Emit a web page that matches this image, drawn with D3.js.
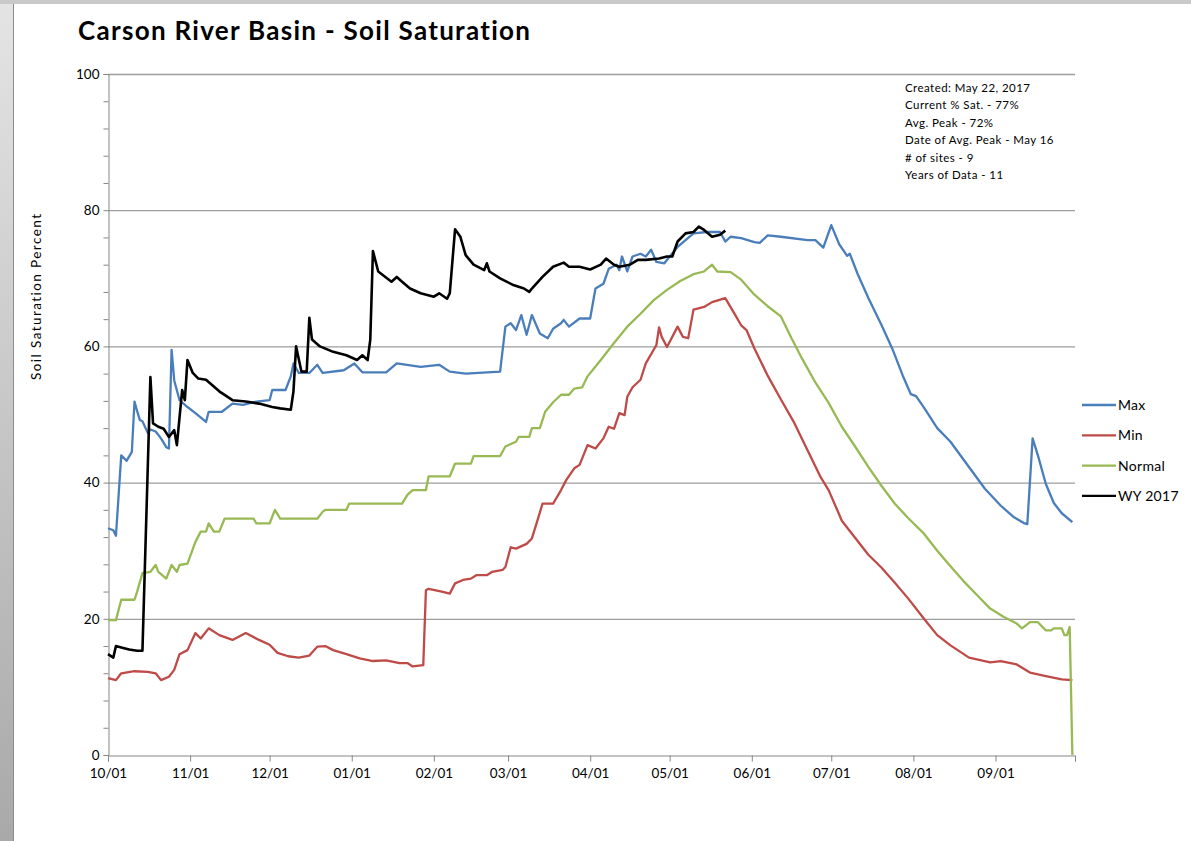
<!DOCTYPE html>
<html>
<head>
<meta charset="utf-8">
<script src="https://cdn.jsdelivr.net/npm/d3@7"></script>
<style>
  html, body { margin: 0; padding: 0; background: #fff; }
  svg { display: block; }
  text { font-family: Lato, "Open Sans", sans-serif; fill: #000; font-variant-ligatures: none; }
</style>
</head>
<body>
<svg width="1191" height="841"></svg>
<script>
// water year day index (10/01 = 0) and percent saturation
const monthLabels = ['10/01', '11/01', '12/01', '01/01', '02/01', '03/01', '04/01', '05/01', '06/01', '07/01', '08/01', '09/01'];
const monthStarts = [0, 31, 61, 92, 123, 151, 182, 212, 243, 273, 304, 335];
const yTicks = [0, 20, 40, 60, 80, 100];

const maxSeries = [
    [0, 33.3], [2, 33.0], [3, 32.2], [5, 44.0], [7, 43.2], [9, 44.5], [10, 51.9], [11, 50.5], [12, 49.2],
    [13, 49.0], [15, 47.3], [16, 47.8], [18, 47.5], [20, 46.5], [22, 45.2], [23, 45.0], [24, 59.5], [25, 55.0],
    [27, 52.1], [30, 51.1], [33, 50.2], [37, 48.9], [38, 50.4], [43, 50.4], [47, 51.6], [51, 51.4], [56, 51.9],
    [61, 52.1], [62, 53.6], [67, 53.6], [69, 55.6], [70, 57.5], [72, 56.1], [76, 56.1], [79, 57.3], [81, 56.1],
    [89, 56.5], [93, 57.5], [96, 56.2], [105, 56.2], [109, 57.5], [118, 57.0], [125, 57.3], [129, 56.3],
    [135, 56.0], [148, 56.3], [150, 62.9], [152, 63.4], [154, 62.4], [156, 64.6], [158, 61.7], [160, 64.6],
    [163, 61.9], [166, 61.2], [168, 62.6], [171, 63.4], [172, 63.9], [174, 62.9], [178, 64.1], [182, 64.1],
    [184, 68.5], [187, 69.2], [189, 71.4], [192, 72.0], [193, 71.2], [194, 73.2], [196, 71.0], [198, 73.2],
    [201, 73.6], [203, 73.2], [205, 74.2], [207, 72.4], [210, 72.2], [212, 73.2], [215, 74.6], [218, 75.6],
    [221, 76.6], [226, 76.8], [231, 76.8], [233, 75.4], [235, 76.1], [239, 75.9], [244, 75.3], [246, 75.2],
    [249, 76.3], [254, 76.1], [264, 75.6], [267, 75.6], [270, 74.5], [273, 77.8], [276, 75.0], [279, 73.3],
    [280, 73.6], [283, 70.6], [287, 67.1], [292, 63.1], [296, 59.7], [300, 55.7], [303, 53.0], [305, 52.7],
    [308, 51.0], [313, 48.0], [318, 46.0], [324, 42.8], [331, 39.1], [337, 36.6], [342, 34.9], [346, 34.0],
    [347, 33.9], [349, 46.5], [351, 44.0], [354, 39.8], [357, 37.0], [360, 35.5], [364, 34.2]
];

const minSeries = [
    [0, 11.3], [3, 11.0], [5, 12.0], [10, 12.3], [15, 12.2], [18, 12.0], [20, 11.0], [23, 11.5], [25, 12.5],
    [27, 14.8], [30, 15.4], [33, 17.9], [35, 17.1], [38, 18.6], [42, 17.6], [47, 16.9], [52, 17.9], [57, 16.9],
    [61, 16.2], [64, 15.0], [68, 14.5], [72, 14.3], [76, 14.6], [79, 15.9], [82, 16.0], [85, 15.4], [90, 14.8],
    [95, 14.2], [100, 13.8], [105, 13.9], [110, 13.5], [113, 13.5], [115, 13.0], [119, 13.2], [120, 24.2],
    [121, 24.4], [126, 24.0], [129, 23.7], [131, 25.2], [134, 25.7], [137, 25.9], [139, 26.4], [143, 26.4],
    [145, 26.9], [149, 27.2], [150, 27.6], [152, 30.5], [154, 30.3], [158, 31.0], [160, 31.8], [162, 34.3],
    [164, 36.9], [168, 36.9], [171, 38.9], [173, 40.4], [176, 42.1], [178, 42.6], [181, 45.5], [184, 45.0],
    [187, 46.5], [189, 48.2], [191, 47.9], [193, 50.2], [195, 49.9], [196, 52.6], [198, 54.0], [201, 55.1],
    [203, 57.5], [207, 60.2], [208, 62.8], [209, 61.4], [211, 59.9], [215, 62.9], [217, 61.4], [219, 61.2],
    [221, 65.4], [225, 65.8], [228, 66.5], [233, 67.1], [236, 65.1], [239, 63.1], [241, 62.4], [244, 59.7],
    [249, 55.7], [254, 52.2], [259, 48.8], [264, 44.8], [269, 40.8], [272, 38.9], [277, 34.4], [280, 32.9],
    [287, 29.4], [292, 27.5], [297, 25.3], [302, 23.0], [308, 20.0], [313, 17.6], [318, 16.1], [325, 14.3],
    [333, 13.6], [337, 13.8], [343, 13.3], [348, 12.1], [354, 11.6], [360, 11.1], [364, 11.0]
];

const normalSeries = [
    [0, 19.8], [3, 19.8], [5, 22.8], [10, 22.8], [11, 24.0], [13, 26.7], [16, 26.9], [18, 27.9], [19, 26.9],
    [22, 25.9], [24, 27.9], [26, 26.9], [27, 27.9], [30, 28.1], [33, 31.3], [35, 32.8], [37, 32.8], [38, 34.0],
    [40, 32.8], [42, 32.8], [44, 34.7], [55, 34.7], [56, 34.0], [61, 34.0], [63, 36.0], [65, 34.7], [79, 34.7],
    [81, 35.7], [82, 36.0], [90, 36.0], [91, 36.9], [111, 36.9], [113, 38.2], [115, 38.9], [120, 38.9],
    [121, 40.9], [129, 40.9], [131, 42.8], [137, 42.8], [138, 43.9], [148, 43.9], [150, 45.3], [154, 46.0],
    [155, 46.7], [159, 46.7], [160, 48.0], [163, 48.0], [165, 50.4], [168, 51.8], [171, 52.9], [174, 52.9],
    [176, 53.8], [179, 54.0], [181, 55.6], [186, 58.0], [191, 60.5], [196, 62.9], [201, 64.8], [206, 66.8],
    [211, 68.3], [216, 69.6], [221, 70.6], [225, 71.0], [228, 72.0], [230, 71.0], [235, 70.9], [239, 69.8],
    [244, 67.6], [249, 65.9], [254, 64.4], [258, 61.2], [262, 58.2], [267, 54.7], [272, 51.7], [277, 48.2],
    [282, 45.3], [287, 42.3], [292, 39.5], [297, 36.9], [302, 34.8], [308, 32.5], [313, 30.0], [318, 27.7],
    [323, 25.5], [328, 23.5], [333, 21.5], [338, 20.3], [343, 19.3], [345, 18.6], [348, 19.5], [351, 19.5],
    [354, 18.3], [356, 18.3], [357, 18.6], [360, 18.6], [361, 17.6], [362, 17.6], [363, 18.8], [364, 0]
];

const wy2017Series = [
    [0, 14.8], [2, 14.3], [3, 16.0], [5, 15.8], [8, 15.5], [11, 15.3], [13, 15.3], [16, 55.5], [17, 48.7],
    [19, 48.2], [21, 47.9], [23, 46.7], [25, 47.7], [26, 45.5], [28, 53.6], [29, 52.1], [30, 58.0], [32, 56.1],
    [34, 55.3], [37, 55.1], [42, 53.4], [47, 52.1], [52, 51.9], [57, 51.6], [62, 51.1], [65, 50.9], [69, 50.7],
    [70, 53.4], [71, 60.0], [73, 56.3], [75, 56.3], [76, 64.2], [77, 61.0], [80, 60.0], [85, 59.2], [90, 58.7],
    [94, 58.0], [96, 58.7], [98, 58.0], [99, 61.0], [100, 74.0], [102, 71.0], [107, 69.5], [109, 70.2],
    [111, 69.5], [114, 68.5], [118, 67.8], [123, 67.3], [125, 67.8], [128, 67.0], [129, 67.8], [131, 77.2],
    [133, 76.1], [135, 73.4], [138, 72.0], [142, 71.2], [143, 72.2], [144, 71.0], [148, 70.0], [153, 69.0],
    [157, 68.5], [159, 68.0], [160, 68.5], [164, 70.2], [168, 71.7], [172, 72.3], [174, 71.7], [178, 71.7],
    [182, 71.3], [186, 72.0], [188, 72.9], [191, 72.0], [193, 71.7], [197, 72.0], [200, 72.7], [203, 72.7],
    [208, 72.9], [211, 73.2], [213, 73.2], [215, 75.4], [218, 76.6], [221, 76.8], [223, 77.6], [225, 77.1],
    [228, 76.1], [231, 76.4], [233, 77.0]
];

const seriesNames = ['Max', 'Min', 'Normal', 'WY 2017'];
const seriesColors = ['#4a7ebb', '#be4b48', '#98b954', '#000000'];
const noteLines = [
    'Created:  May 22, 2017',
    'Current % Sat. - 77%',
    'Avg. Peak - 72%',
    'Date of Avg. Peak - May 16',
    '# of sites - 9',
    'Years of Data - 11'
];

const svg = d3.select('svg');
const width = +svg.attr('width');
const height = +svg.attr('height');

// window frame left and top
const defs = svg.append('defs');
const grad = defs.append('linearGradient')
    .attr('id', 'frame')
    .attr('x1', 0).attr('y1', 0).attr('x2', 0).attr('y2', 1);
grad.append('stop').attr('offset', '0%').attr('stop-color', '#e4e4e4');
grad.append('stop').attr('offset', '100%').attr('stop-color', '#a9a9a9');
svg.append('rect').attr('x', 0).attr('y', 0).attr('width', 13).attr('height', height).attr('fill', 'url(#frame)');
svg.append('line').attr('x1', 13.5).attr('x2', 13.5).attr('y1', 0).attr('y2', height).attr('stroke', '#8c8c8c');
svg.append('rect').attr('x', 0).attr('y', 0).attr('width', width).attr('height', 4).attr('fill', '#c9c9c9');

const x = d3.scaleLinear().domain([0, 365]).range([108, 1075]);
const y = d3.scaleLinear().domain([0, 100]).range([755, 74]);

// grid
svg.append('g')
    .selectAll('line')
    .data(yTicks.filter(d => d > 0))
    .enter().append('line')
    .attr('x1', x(0)).attr('x2', x(365))
    .attr('y1', d => y(d) + 0.5).attr('y2', d => y(d) + 0.5)
    .attr('stroke', '#9d9d9d')
    .attr('stroke-width', 1.3);

// y axis
const yAxis = svg.append('g')
    .attr('transform', `translate(${x(0) + 0.5},0)`)
    .call(d3.axisLeft(y).tickValues(d3.range(0, 101, 4)).tickSize(5).tickFormat(d => yTicks.includes(d) ? d : ''));
yAxis.select('.domain').attr('stroke', '#868686');
yAxis.selectAll('.tick line').attr('stroke', '#868686');
yAxis.selectAll('.tick text')
    .attr('x', -9)
    .style('font-size', '13.5px')
    .style('font-family', 'Lato, sans-serif')
    .attr('fill', '#000');

// x axis
const xAxis = svg.append('g')
    .attr('transform', `translate(0,${y(0) + 0.5})`)
    .call(d3.axisBottom(x).tickValues(monthStarts.concat([365])).tickSize(6)
        .tickFormat(d => monthLabels[monthStarts.indexOf(d)] || ''));
xAxis.select('.domain').attr('stroke', '#868686');
xAxis.selectAll('.tick line').attr('stroke', '#868686');
xAxis.selectAll('.tick text')
    .attr('y', 13)
    .style('font-size', '13.5px')
    .style('font-family', 'Lato, sans-serif')
    .attr('fill', '#000');

// lines
const line = d3.line()
    .x(d => x(d[0]))
    .y(d => y(d[1]));

const allSeries = [maxSeries, minSeries, normalSeries, wy2017Series];
svg.append('g')
    .selectAll('path')
    .data(allSeries)
    .enter().append('path')
    .attr('d', line)
    .attr('fill', 'none')
    .attr('stroke', (d, i) => seriesColors[i])
    .attr('stroke-width', (d, i) => i === 3 ? 2.6 : 2.3)
    .attr('stroke-linejoin', 'round');

// title
svg.append('text')
    .attr('x', 78)
    .attr('y', 40)
    .attr('textLength', 452)
    .attr('lengthAdjust', 'spacing')
    .style('font-size', '26px')
    .style('font-weight', 'bold')
    .text('Carson River Basin - Soil Saturation');

svg.append('text')
    .attr('transform', 'translate(41,297) rotate(-90)')
    .attr('text-anchor', 'middle')
    .attr('textLength', 166)
    .attr('lengthAdjust', 'spacing')
    .style('font-size', '13.5px')
    .text('Soil Saturation Percent');

// notes
svg.append('g')
    .selectAll('text')
    .data(noteLines)
    .enter().append('text')
    .attr('x', 905)
    .attr('y', (d, i) => 92 + i * 17.4)
    .style('font-size', '11.5px')
    .style('letter-spacing', '0.45px')
    .text(d => d);

// legend
const legend = svg.append('g')
    .selectAll('g')
    .data(seriesNames)
    .enter().append('g')
    .attr('transform', (d, i) => `translate(1082,${405 + i * 30.3})`);
legend.append('line')
    .attr('x1', 0).attr('x2', 34)
    .attr('stroke', (d, i) => seriesColors[i])
    .attr('stroke-width', 2.3);
legend.append('text')
    .attr('x', 36)
    .attr('y', 5)
    .style('font-size', '14px')
    .style('letter-spacing', '0.3px')
    .text(d => d);
</script>
</body>
</html>
